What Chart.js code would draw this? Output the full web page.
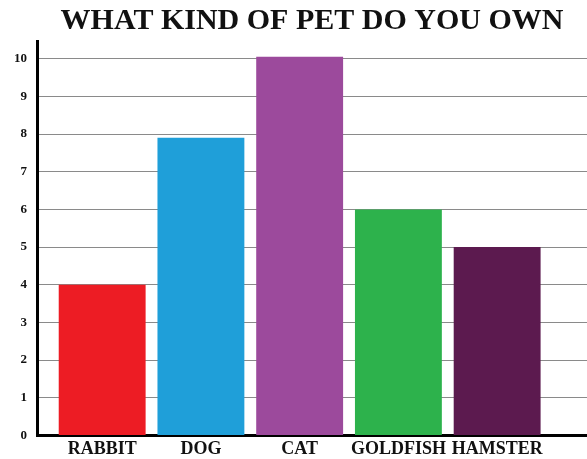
<!DOCTYPE html>
<html>
<head>
<meta charset="utf-8">
<script src="https://cdn.jsdelivr.net/npm/chart.js@4/dist/chart.umd.min.js"></script>
<style>
  html, body { margin: 0; padding: 0; background: #fff; }
  #wrap { width: 587px; height: 459px; }
</style>
</head>
<body>
<div id="wrap"><canvas id="petChart"></canvas></div>
<script>
const categories = ["RABBIT", "DOG", "CAT", "GOLDFISH", "HAMSTER"];
const petCounts = [4, 7.9, 10.05, 6, 5];
const barColors = ["#ed1c24", "#1f9fd9", "#9c4a9c", "#2db24c", "#5c1a4f"];
const yTicks = [0, 1, 2, 3, 4, 5, 6, 7, 8, 9, 10];

const serif = "'Liberation Serif', 'DejaVu Serif', serif";

new Chart(document.getElementById("petChart"), {
  type: "bar",
  data: {
    datasets: [{
      data: petCounts.map((v, i) => ({ x: i, y: v })),
      backgroundColor: barColors,
      borderWidth: 0,
      barPercentage: 0.88,
      categoryPercentage: 1
    }]
  },
  options: {
    responsive: true,
    maintainAspectRatio: false,
    animation: false,
    layout: { padding: { top: 3, right: 0, left: 4, bottom: -4 } },
    plugins: {
      legend: { display: false },
      tooltip: { enabled: false },
      title: {
        display: true,
        text: "WHAT KIND OF PET DO YOU OWN",
        fullSize: false,
        color: "#111",
        font: { family: serif, size: 30, weight: "bold" },
        padding: { top: 0, bottom: 2 }
      }
    },
    scales: {
      x: {
        type: "linear",
        offset: false,
        min: -0.66,
        max: 4.91,
        afterBuildTicks: axis => { axis.ticks = categories.map((c, i) => ({ value: i })); },
        ticks: {
          callback: v => categories[v] ?? "",
          color: "#111",
          font: { family: serif, size: 18, weight: "bold" },
          padding: 3,
          maxRotation: 0,
          autoSkip: false
        },
        grid: { display: false, drawTicks: false },
        border: { color: "#000", width: 3 }
      },
      y: {
        min: 0,
        max: 10.47,
        afterBuildTicks: axis => { axis.ticks = yTicks.map(v => ({ value: v })); },
        ticks: {
          color: "#111",
          font: { family: serif, size: 13, weight: "bold" },
          padding: 10
        },
        grid: { color: "#8a8a8a", lineWidth: 1, drawTicks: false },
        border: { color: "#000", width: 3 }
      }
    }
  }
});
</script>
</body>
</html>
